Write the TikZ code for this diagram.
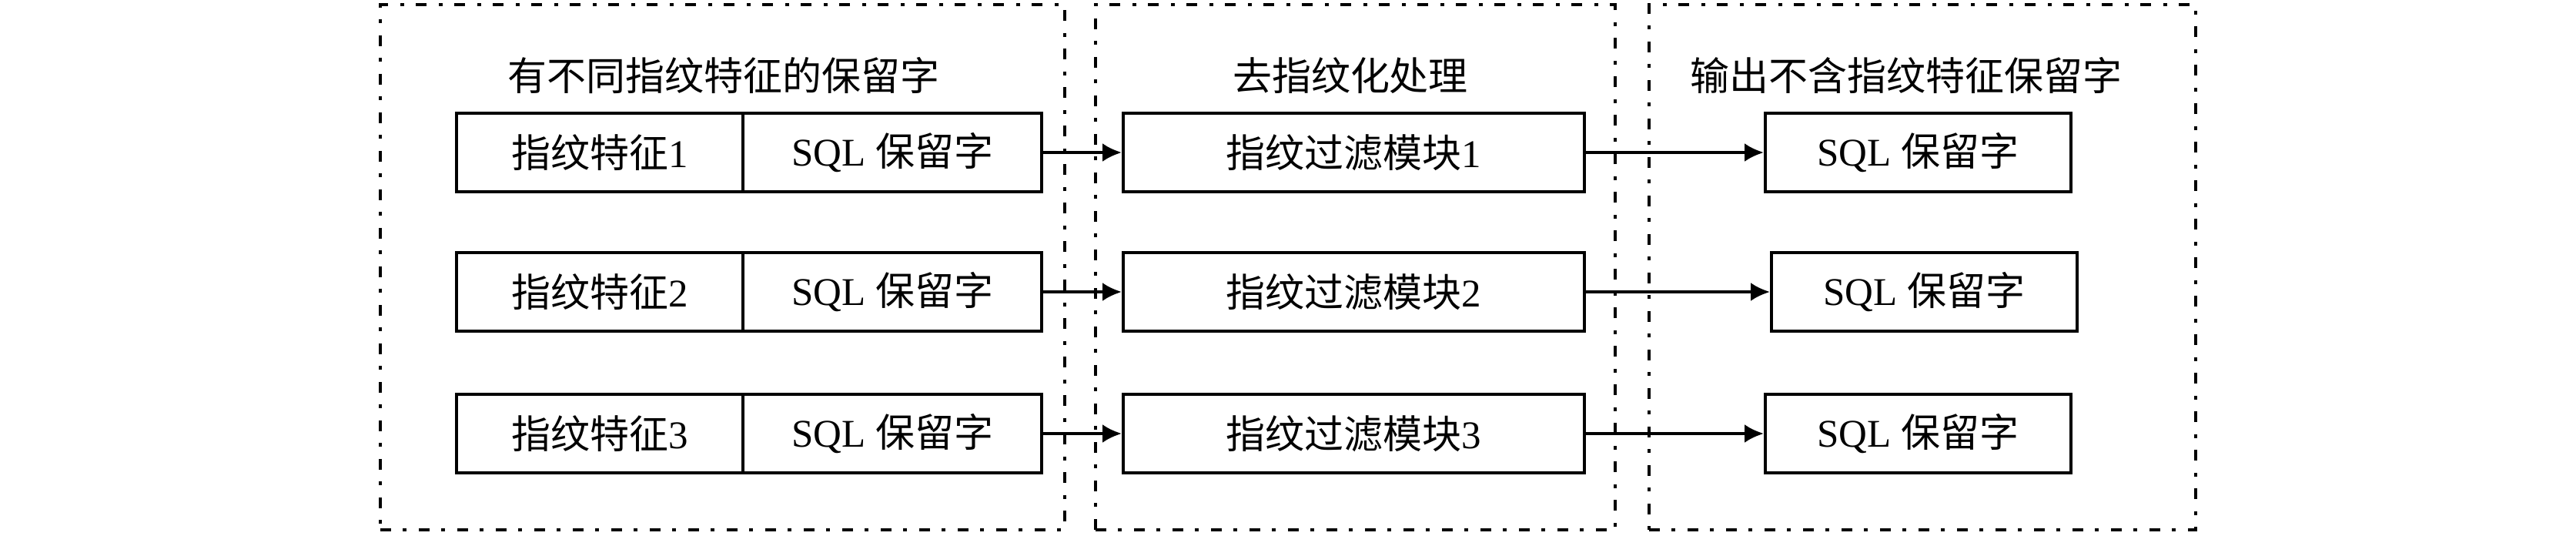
\documentclass[tikz,border=0pt]{standalone}
\usepackage{fontspec}
\setmainfont{Liberation Serif}
\newfontfamily\cjk{Noto Sans CJK SC}
\usetikzlibrary{arrows.meta}

\tikzstyle{group} = [draw=black, line width=0.045cm, inner sep=0, dash pattern=on 0.14cm off 0.15cm on 0.05cm off 0.16cm]
\tikzstyle{block} = [draw=black, line width=0.04cm, inner sep=0, minimum height=1.02cm, font=\fontsize{14.5}{17}\selectfont]
\tikzstyle{grouptitle} = [inner sep=0, font=\fontsize{14.5}{17}\selectfont]
\tikzstyle{flow} = [>={Latex[length=0.25cm,width=0.24cm]}, draw=black, line width=0.04cm]

\begin{document}
\begin{tikzpicture}[scale=1]
	\useasboundingbox (0,0) rectangle (33.46,-6.95);

%Nodes
	\node[group, minimum width=8.89cm, minimum height=6.82cm] (grpin) at (9.385,-3.47) {};
	\node[group, minimum width=6.75cm, minimum height=6.82cm] (grpfilt) at (17.605,-3.47) {};
	\node[group, minimum width=7.10cm, minimum height=6.82cm] (grpout) at (24.97,-3.47) {};

	\node[grouptitle] (ttlin) at (9.40,-0.98) {\cjk 有不同指纹特征的保留字};
	\node[grouptitle] (ttlfilt) at (17.54,-0.98) {\cjk 去指纹化处理};
	\node[grouptitle] (ttlout) at (24.76,-0.98) {\cjk 输出不含指纹特征保留字};

	% row 1
	\node[block, minimum width=3.72cm] (feat1) at (7.79,-1.98) {{\cjk 指纹特征}1};
	\node[block, minimum width=3.88cm] (sqlin1) at (11.59,-1.98) {SQL {\cjk 保留字}};
	\node[block, minimum width=5.99cm] (filt1) at (17.585,-1.98) {{\cjk 指纹过滤模块}1};
	\node[block, minimum width=3.97cm] (out1) at (24.915,-1.98) {SQL {\cjk 保留字}};

	% row 2
	\node[block, minimum width=3.72cm] (feat2) at (7.79,-3.79) {{\cjk 指纹特征}2};
	\node[block, minimum width=3.88cm] (sqlin2) at (11.59,-3.79) {SQL {\cjk 保留字}};
	\node[block, minimum width=5.99cm] (filt2) at (17.585,-3.79) {{\cjk 指纹过滤模块}2};
	\node[block, minimum width=3.97cm] (out2) at (24.995,-3.79) {SQL {\cjk 保留字}};

	% row 3
	\node[block, minimum width=3.72cm] (feat3) at (7.79,-5.63) {{\cjk 指纹特征}3};
	\node[block, minimum width=3.88cm] (sqlin3) at (11.59,-5.63) {SQL {\cjk 保留字}};
	\node[block, minimum width=5.99cm] (filt3) at (17.585,-5.63) {{\cjk 指纹过滤模块}3};
	\node[block, minimum width=3.97cm] (out3) at (24.915,-5.63) {SQL {\cjk 保留字}};

%Connection
	\draw[flow,->] (sqlin1) -- (filt1);
	\draw[flow,->] (filt1) -- (out1);
	\draw[flow,->] (sqlin2) -- (filt2);
	\draw[flow,->] (filt2) -- (out2);
	\draw[flow,->] (sqlin3) -- (filt3);
	\draw[flow,->] (filt3) -- (out3);

\end{tikzpicture}
\end{document}
